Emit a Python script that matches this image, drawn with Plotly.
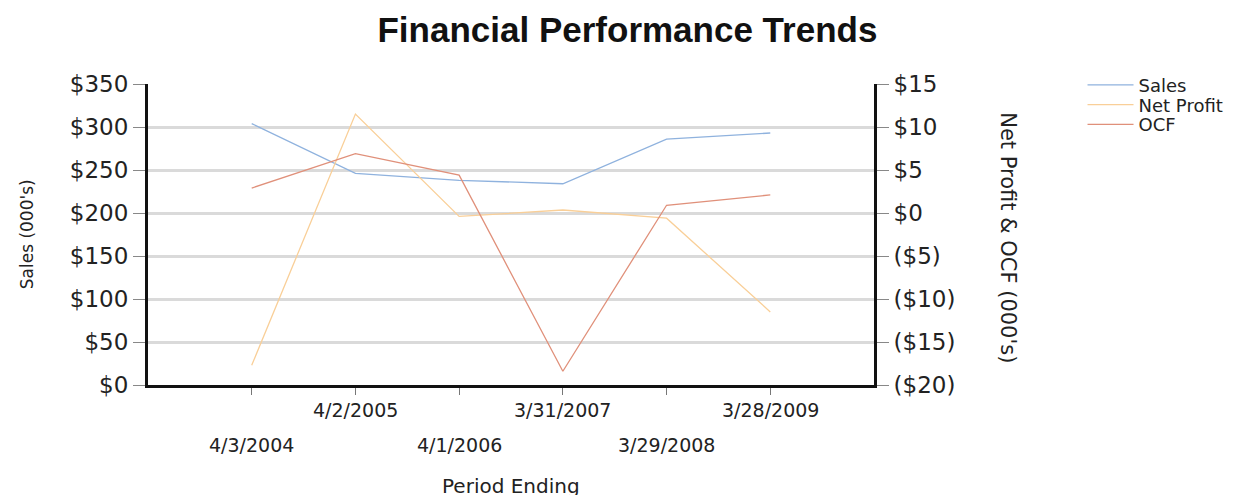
import plotly.graph_objects as go

# Period-end dates (category axis)
periods = ["4/3/2004", "4/2/2005", "4/1/2006", "3/31/2007", "3/29/2008", "3/28/2009"]

# Values in thousands of dollars
sales = [304, 246, 238, 234, 286, 293]
net_profit = [-17.7, 11.5, -0.4, 0.35, -0.6, -11.5]
ocf = [2.9, 6.9, 4.4, -18.4, 0.9, 2.1]

# Axis ticks
sales_ticks = [0, 50, 100, 150, 200, 250, 300, 350]
sales_tick_text = ["$0", "$50", "$100", "$150", "$200", "$250", "$300", "$350"]
right_ticks = [-20, -15, -10, -5, 0, 5, 10, 15]
right_tick_text = ["($20)", "($15)", "($10)", "($5)", "$0", "$5", "$10", "$15"]

TITLE_FONT = "Liberation Sans, Arial, sans-serif"
FONT = "DejaVu Sans, sans-serif"
INK = "#222"

fig = go.Figure()
fig.add_trace(go.Scatter(x=periods, y=sales, name="Sales", mode="lines",
                         line=dict(color="#8fb2de", width=1.3), yaxis="y",
                         legend="legend"))
fig.add_trace(go.Scatter(x=periods, y=net_profit, name="Net Profit", mode="lines",
                         line=dict(color="#f9cf98", width=1.3), yaxis="y2",
                         legend="legend2"))
fig.add_trace(go.Scatter(x=periods, y=ocf, name="OCF", mode="lines",
                         line=dict(color="#e0907a", width=1.3), yaxis="y2",
                         legend="legend3"))

# Staggered date labels: odd periods on the upper row, even on the lower row
for i, p in enumerate(periods):
    fig.add_annotation(x=p, xref="x", yref="paper",
                       y=-0.083 if i % 2 else -0.199, yanchor="middle",
                       text=p, showarrow=False,
                       font=dict(family=FONT, size=19, color=INK))

fig.add_annotation(text="Period Ending", xref="paper", yref="paper",
                   x=0.5, y=-0.335, yanchor="middle", showarrow=False,
                   font=dict(family=FONT, size=20, color=INK))
fig.add_annotation(text="Sales (000's)", xref="paper", yref="paper",
                   x=-0.167, xanchor="center", y=0.5, yanchor="middle",
                   textangle=-90, showarrow=False,
                   font=dict(family=FONT, size=17, color=INK))
fig.add_annotation(text="Net Profit & OCF (000's)", xref="paper", yref="paper",
                   x=1.185, xanchor="center", y=0.49, yanchor="middle",
                   textangle=90, showarrow=False,
                   font=dict(family=FONT, size=21, color=INK))

# One single-entry legend per series, placed in page coordinates
legend_style = dict(xref="container", yref="container", x=0.873, xanchor="left",
                    yanchor="middle",
                    font=dict(family=FONT, size=18, color=INK),
                    bgcolor="rgba(0,0,0,0)", itemwidth=46)

fig.update_layout(
    width=1240, height=495,
    margin=dict(l=148, r=366, t=84, b=110),
    paper_bgcolor="white", plot_bgcolor="white",
    font=dict(family=FONT, color=INK),
    title=dict(text="<b>Financial Performance Trends</b>", x=0.506, xanchor="center",
               y=0.94, yanchor="middle",
               font=dict(family=TITLE_FONT, size=35, color="#111")),
    xaxis=dict(type="category", range=[-1, 6], showticklabels=False,
               showgrid=False, zeroline=False,
               showline=True, linecolor="#111", linewidth=3,
               ticks="outside", ticklen=7, tickcolor="#777", tickwidth=1),
    yaxis=dict(range=[0, 350], tickvals=sales_ticks, ticktext=sales_tick_text,
               showgrid=True, gridcolor="#dadada", gridwidth=3, zeroline=False,
               showline=True, linecolor="#111", linewidth=3,
               ticks="outside", ticklen=12, tickcolor="#888", tickwidth=1,
               tickfont=dict(family=FONT, size=23, color=INK)),
    yaxis2=dict(range=[-20, 15], tickvals=right_ticks, ticktext=right_tick_text,
                overlaying="y", side="right", showgrid=False, zeroline=False,
                showline=True, linecolor="#111", linewidth=3,
                ticks="outside", ticklen=12, tickcolor="#888", tickwidth=1,
                tickfont=dict(family=FONT, size=23, color=INK)),
    legend=dict(legend_style, y=0.828),
    legend2=dict(legend_style, y=0.788),
    legend3=dict(legend_style, y=0.748),
    showlegend=True,
)

fig.write_html("out.html")
